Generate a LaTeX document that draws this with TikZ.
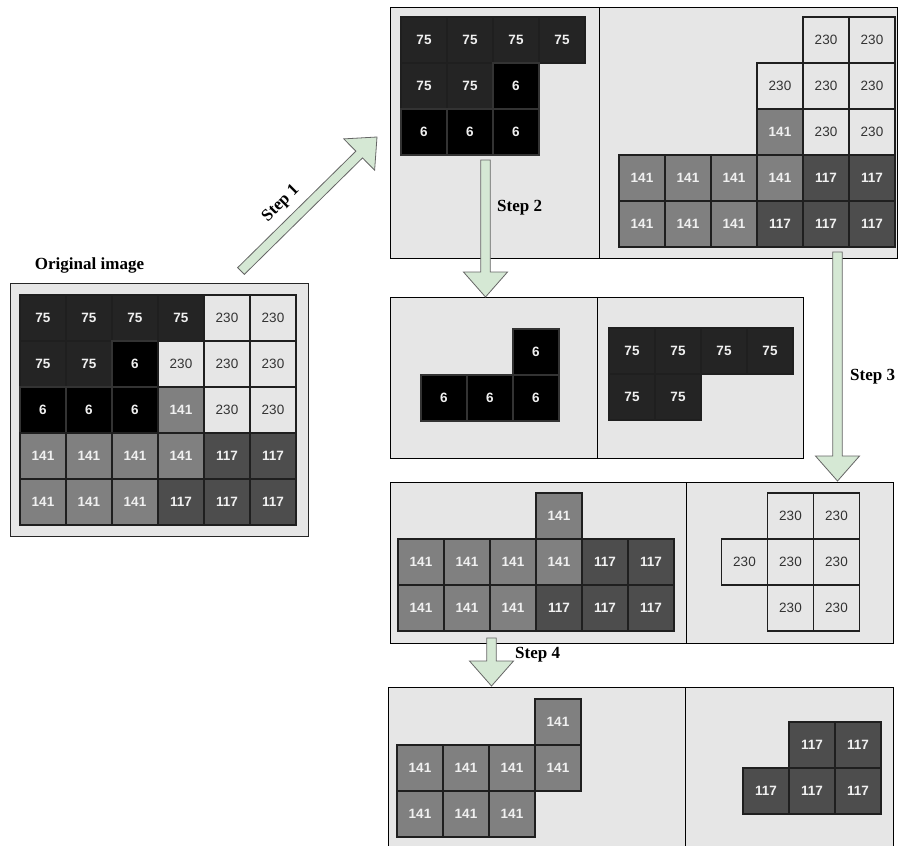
\documentclass[tikz,border=0pt]{standalone}
\usepackage{fontspec}
\setmainfont{Liberation Serif}
\setsansfont{Liberation Sans}
\usetikzlibrary{calc}
\definecolor{panelbg}{HTML}{E6E6E6}
\definecolor{c75}{HTML}{242424}
\definecolor{c141}{HTML}{808080}
\definecolor{c117}{HTML}{4D4D4D}
\definecolor{c230}{HTML}{E6E6E6}
\definecolor{t230}{HTML}{333333}
\definecolor{cellline}{HTML}{1F1F1F}
\definecolor{arrowfill}{HTML}{D5E8D4}
\definecolor{arrowline}{HTML}{666666}
\tikzset{
  cell/.style={draw=cellline, line width=1.8pt, minimum size=46pt, inner sep=0pt, outer sep=0pt,
    anchor=north west, font=\sffamily\fontsize{13.5}{13.5}\selectfont},
  dk/.style={cell, text=white!94!black, font=\sffamily\bfseries\fontsize{13.5}{13.5}\selectfont},
  v75/.style={dk, fill=c75},
  v6/.style={dk, fill=black, draw=black!80},
  v141/.style={dk, fill=c141},
  v117/.style={dk, fill=c117},
  v230/.style={cell, fill=c230, text=t230},
  cv/.code={\ifnum#1=230\relax\pgfkeysalso{v230}\else\ifnum#1=141\relax\pgfkeysalso{v141}\else
    \ifnum#1=117\relax\pgfkeysalso{v117}\else\ifnum#1=75\relax\pgfkeysalso{v75}\else
    \pgfkeysalso{v6}\fi\fi\fi\fi},
  panel/.style={draw=black, line width=1pt, fill=panelbg, anchor=north west, inner sep=0pt, outer sep=0pt},
  lbl/.style={font=\rmfamily\bfseries\fontsize{17}{17}\selectfont, inner sep=0pt},
  blk/.style={draw=arrowline, fill=arrowfill, line width=0.8pt, line join=miter},
}
\newcommand\cellrow[5]{%
  \foreach \v [count=\c from #4] in {#5} {\node[cv=\v] (#1-\c) at ({#2+46*\c},#3) {\v};}%
}
\newcommand\blockarrow[2]{%
  \coordinate (#2-h) at ($(#2)!25pt!(#1)$);
  \draw[blk] ($(#1)!4.75pt!90:(#2)$) -- ($(#2-h)!4.75pt!90:(#2)$) -- ($(#2-h)!22pt!90:(#2)$)
    -- (#2) -- ($(#2-h)!22pt!-90:(#2)$) -- ($(#2-h)!4.75pt!-90:(#2)$)
    -- ($(#1)!4.75pt!-90:(#2)$) -- cycle;
}
\begin{document}
\begin{tikzpicture}[x=1pt,y=-1pt]
\useasboundingbox (0,0) rectangle (898,846);
\clip (0,0) rectangle (898,846);
% panels
\node[panel, draw=black!85, minimum width=298pt, minimum height=253pt] (P0) at (10,283) {};
\node[panel, minimum width=209pt, minimum height=251pt] (P1L) at (390,7) {};
\node[panel, minimum width=298pt, minimum height=251pt] (P1R) at (599,7) {};
\node[panel, minimum width=207pt, minimum height=161pt] (P2L) at (390,297) {};
\node[panel, minimum width=206pt, minimum height=161pt] (P2R) at (597,297) {};
\node[panel, minimum width=296pt, minimum height=161pt] (P3L) at (390,482) {};
\node[panel, minimum width=207pt, minimum height=161pt] (P3R) at (686,482) {};
\node[panel, minimum width=297pt, minimum height=180pt] (P4L) at (388,687) {};
\node[panel, minimum width=208pt, minimum height=180pt] (P4R) at (685,687) {};
% title
\node[lbl] (title) at (89.5,265) {Original image};
% original image
\cellrow{o0}{20}{295}{0}{75,75,75,75,230,230}
\cellrow{o1}{20}{341}{0}{75,75,6,230,230,230}
\cellrow{o2}{20}{387}{0}{6,6,6,141,230,230}
\cellrow{o3}{20}{433}{0}{141,141,141,141,117,117}
\cellrow{o4}{20}{479}{0}{141,141,141,117,117,117}
% step 1 results
\cellrow{a0}{401}{17}{0}{75,75,75,75}
\cellrow{a1}{401}{63}{0}{75,75,6}
\cellrow{a2}{401}{109}{0}{6,6,6}
\cellrow{b0}{619}{17}{4}{230,230}
\cellrow{b1}{619}{63}{3}{230,230,230}
\cellrow{b2}{619}{109}{3}{141,230,230}
\cellrow{b3}{619}{155}{0}{141,141,141,141,117,117}
\cellrow{b4}{619}{201}{0}{141,141,141,117,117,117}
% step 2 results
\cellrow{c0}{421}{329}{2}{6}
\cellrow{c1}{421}{375}{0}{6,6,6}
\cellrow{d0}{609}{328}{0}{75,75,75,75}
\cellrow{d1}{609}{374}{0}{75,75}
% step 3 results
\cellrow{e0}{398}{493}{3}{141}
\cellrow{e1}{398}{539}{0}{141,141,141,141,117,117}
\cellrow{e2}{398}{585}{0}{141,141,141,117,117,117}
\cellrow{f0}{721.5}{493}{1}{230,230}
\cellrow{f1}{721.5}{539}{0}{230,230,230}
\cellrow{f2}{721.5}{585}{1}{230,230}
% step 4 results
\cellrow{g0}{397}{699}{3}{141}
\cellrow{g1}{397}{745}{0}{141,141,141,141}
\cellrow{g2}{397}{791}{0}{141,141,141}
\cellrow{h0}{743}{722}{1}{117,117}
\cellrow{h1}{743}{768}{0}{117,117,117}
% arrows
\coordinate (a1s) at (241,271); \coordinate (a1e) at (377,137);
\coordinate (a2s) at (485.5,160); \coordinate (a2e) at (485.5,297);
\coordinate (a3s) at (837.5,252); \coordinate (a3e) at (837.5,481);
\coordinate (a4s) at (491.5,638); \coordinate (a4e) at (491.5,686);
\blockarrow{a1s}{a1e}
\blockarrow{a2s}{a2e}
\blockarrow{a3s}{a3e}
\blockarrow{a4s}{a4e}
% step labels
\node[lbl, rotate=45] (s1) at (281,204) {Step 1};
\node[lbl, anchor=west] (s2) at (497,208) {Step 2};
\node[lbl, anchor=west] (s3) at (850,377) {Step 3};
\node[lbl, anchor=west] (s4) at (515,655) {Step 4};
\end{tikzpicture}
\end{document}
